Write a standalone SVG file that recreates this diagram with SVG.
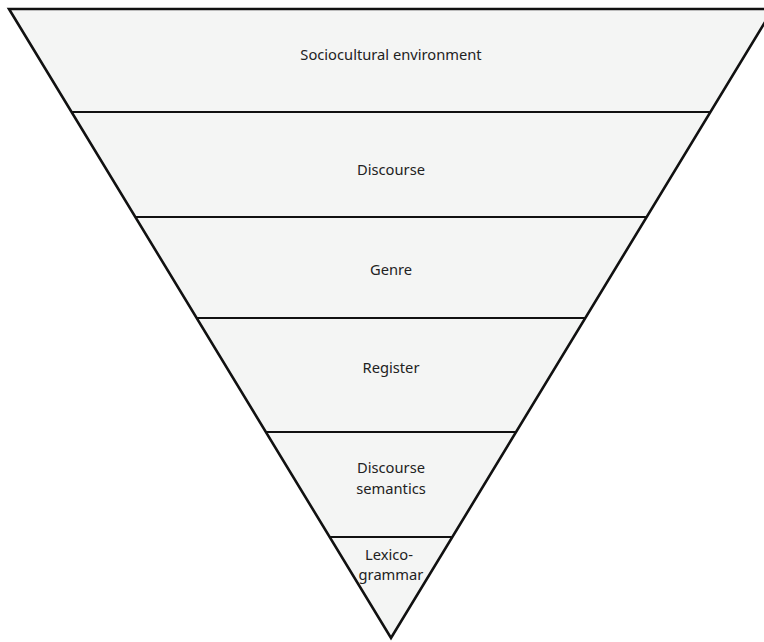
<svg xmlns="http://www.w3.org/2000/svg" width="764" height="642" viewBox="0 0 764 642">
<style>
.t{font-family:"Noto Sans","Open Sans","Liberation Sans",sans-serif;font-size:14.7px;fill:#222;text-anchor:middle}
.sep{stroke:#111;stroke-width:2;fill:none}
</style>
<rect width="764" height="642" fill="#ffffff"/>
<g id="pyramid">
<polygon points="9,9 773,9 391,638" fill="#f4f5f4" stroke="#111" stroke-width="2.6" stroke-linejoin="miter"/>
</g>
<g id="connectors">
<line class="sep" x1="71.5" y1="112" x2="710.5" y2="112"/>
<line class="sep" x1="135.3" y1="217" x2="646.7" y2="217"/>
<line class="sep" x1="196.7" y1="318" x2="585.3" y2="318"/>
<line class="sep" x1="265.9" y1="432" x2="516.1" y2="432"/>
<line class="sep" x1="329.7" y1="537" x2="452.3" y2="537"/>
</g>
<g id="n1"><text class="t" x="391" y="60">Sociocultural environment</text></g>
<g id="n2"><text class="t" x="391" y="175">Discourse</text></g>
<g id="n3"><text class="t" x="391" y="275">Genre</text></g>
<g id="n4"><text class="t" x="391" y="373">Register</text></g>
<g id="n5"><text class="t" x="391" y="473">Discourse</text><text class="t" x="391" y="494">semantics</text></g>
<g id="n6"><text class="t" x="389" y="560">Lexico-</text><text class="t" x="391" y="580">grammar</text></g>
</svg>
